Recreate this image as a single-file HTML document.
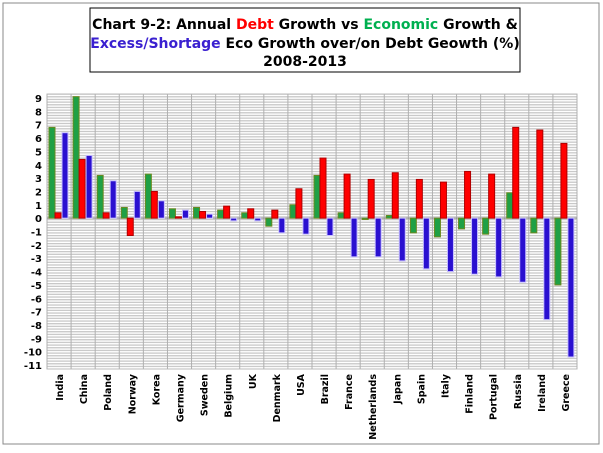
<!DOCTYPE html>
<html><head><meta charset="utf-8"><style>
body{margin:0;background:#fff;font-family:"Liberation Sans",sans-serif}
#wrap{position:relative;width:603px;height:448px}
</style></head><body>
<div id="wrap">
<svg id="chart" width="603" height="448">
<defs>
<pattern id="hl" width="4" height="2.67" patternUnits="userSpaceOnUse"><rect width="4" height="2.67" fill="#fff"/><rect width="4" height="1.3" fill="#c8c8c8"/></pattern>
</defs>
<rect x="3" y="3" width="596" height="441" fill="#fff" stroke="#888"/>
<g>
<rect x="90" y="8" width="430" height="64" fill="#fff" stroke="#000"/>
<text x="305" y="29" text-anchor="middle" font-family="Verdana,DejaVu Sans,sans-serif" font-weight="bold" font-size="14">Chart 9-2: Annual <tspan fill="#ff0000">Debt</tspan> Growth vs <tspan fill="#00b050">Economic</tspan> Growth &amp;</text>
<text x="305" y="48" text-anchor="middle" font-family="Verdana,DejaVu Sans,sans-serif" font-weight="bold" font-size="14"><tspan fill="#3a20d0">Excess/Shortage</tspan> Eco Growth over/on Debt Geowth (%)</text>
<text x="305" y="66" text-anchor="middle" font-family="Verdana,DejaVu Sans,sans-serif" font-weight="bold" font-size="14">2008-2013</text>
</g>
<g id="plot"></g>
</svg>
</div>
<script>
const categories=["India","China","Poland","Norway","Korea","Germany","Sweden","Belgium","UK","Denmark","USA","Brazil","France","Netherlands","Japan","Spain","Italy","Finland","Portugal","Russia","Ireland","Greece"];
const ecoGrowth=[6.8,9.1,3.2,0.8,3.3,0.7,0.8,0.6,0.4,-0.6,1.0,3.2,0.4,-0.1,0.2,-1.1,-1.4,-0.8,-1.2,1.9,-1.1,-5.0];
const debtGrowth=[0.4,4.4,0.4,-1.3,2.0,0.1,0.5,0.9,0.7,0.6,2.2,4.5,3.3,2.9,3.4,2.9,2.7,3.5,3.3,6.8,6.6,5.6];
const excessGrowth=[6.4,4.7,2.8,2.0,1.3,0.6,0.3,-0.2,-0.2,-1.1,-1.2,-1.3,-2.9,-2.9,-3.2,-3.8,-4.0,-4.2,-4.4,-4.8,-7.6,-10.4];
const yTicks=[9,8,7,6,5,4,3,2,1,0,-1,-2,-3,-4,-5,-6,-7,-8,-9,-10,-11];
const NS="http://www.w3.org/2000/svg";
const g=document.getElementById('plot');
const x0=47,x1=577,yTop=98,yBot=365,vMax=9,vMin=-11;
const y=v=>yTop+(vMax-v)*(yBot-yTop)/(vMax-vMin);
const bw=(x1-x0)/categories.length;
function mk(t,a){const e=document.createElementNS(NS,t);for(const k in a)e.setAttribute(k,a[k]);g.appendChild(e);return e;}
let bg=mk('rect',{x:x0,y:yTop-4,width:x1-x0,height:yBot-yTop+8,fill:'url(#hl)',stroke:'#bbb'});


for(let i=0;i<=categories.length;i++){
 let l=mk('line',{x1:x0+i*bw,x2:x0+i*bw,y1:yTop-4,y2:yBot+4,stroke:'#b0b0b0'});
 
 
}
yTicks.forEach(t=>{
 let tx=mk('text',{x:x0-5,y:y(t)+4,'text-anchor':'end','font-size':'10','font-weight':'bold','font-family':'Verdana,DejaVu Sans,sans-serif'});
 tx.textContent=t;
 
 
});
let zl=mk('line',{x1:x0,x2:x1,y1:y(0),y2:y(0),stroke:'#888'});


function bar(cx,v,fill,stroke,name){
 const w=6,y0=y(0),yv=y(v);
 let r=mk('rect',{x:cx,y:Math.min(y0,yv),width:w,height:Math.max(1,Math.abs(yv-y0)),fill:fill,stroke:stroke,'stroke-width':'1'});
 
 
}
categories.forEach((c,i)=>{
 const bx=x0+i*bw;
 bar(bx+2,ecoGrowth[i],'#1fa045','#6a8a20','bar-eco-growth');
 bar(bx+8,debtGrowth[i],'#ff0000','#b00000','bar-debt-growth');
 bar(bx+15,excessGrowth[i],'#2a10d0','#c8c0ff','bar-excess-growth');
 const cx=bx+bw/2+4;
 let t=mk('text',{x:cx,y:374,'text-anchor':'end','font-size':'9.5','font-weight':'bold','font-family':'Verdana,DejaVu Sans,sans-serif',transform:`rotate(-90 ${cx} 374)`});
 t.textContent=c;
 
 
});
</script>
</body></html>
